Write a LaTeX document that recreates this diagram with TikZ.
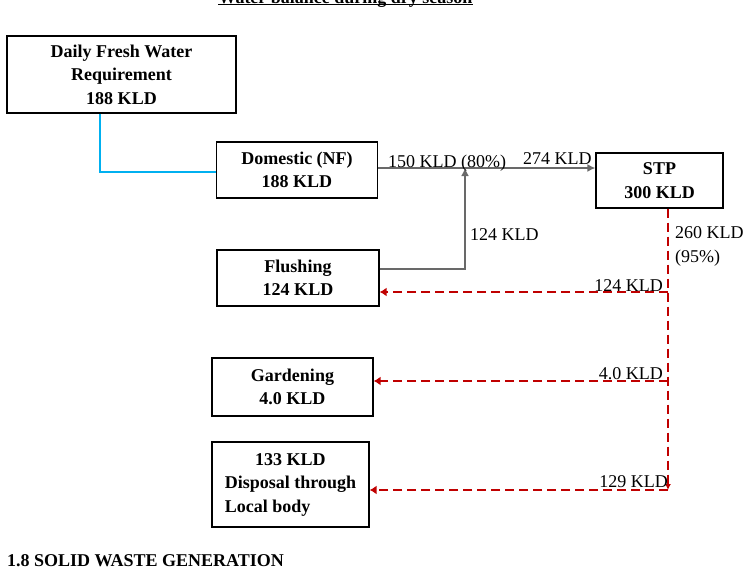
\documentclass[tikz,border=0pt]{standalone}
\usepackage{fontspec}
\usepackage{calc}
\setmainfont{Liberation Serif}
\usetikzlibrary{calc}
\usetikzlibrary{arrows.meta}

\definecolor{feedblue}{RGB}{0,176,240}
\definecolor{flowgray}{RGB}{105,105,105}
\definecolor{reusered}{RGB}{192,0,0}

\begin{document}
\begin{tikzpicture}[x=1pt, y=-1pt,
    unit/.style={draw, line width=1.2pt, inner sep=0pt, align=center,
      font=\fontsize{18}{23.5}\selectfont\bfseries},
    flow/.style={flowgray, line width=2pt, -{Latex[length=8pt, width=8pt]}},
    reuse/.style={reusered, line width=2.8pt, dash pattern=on 9pt off 5pt,
      -{Latex[length=7pt, width=9pt]}},
    qty/.style={anchor=base west, inner sep=0pt, font=\fontsize{18}{23.5}\selectfont}]

    \useasboundingbox (0,0) rectangle (748,570);
    \clip (0,0) rectangle (748,570);

    \node[anchor=base, inner sep=0pt, font=\fontsize{18}{22}\selectfont\bfseries]
      (title) at (345.5,3) {Water balance during dry season};
    \draw[line width=1.2pt] ([yshift=-1.8pt]title.base west)
      -- ([yshift=-1.8pt]title.base east);

    \node[unit, minimum width=229, minimum height=77] (fresh) at (121.5,74.5)
      {Daily Fresh Water\\Requirement\\188 KLD};
    \node[unit, minimum width=161, minimum height=56] (domestic) at (297,170)
      {Domestic (NF)\\188 KLD};
    \node[unit, minimum width=162, minimum height=56] (flushing) at (298,278)
      {Flushing\\124 KLD};
    \node[unit, minimum width=127, minimum height=55] (stp) at (659.5,180.5)
      {STP\\300 KLD};
    \node[unit, minimum width=161, minimum height=58] (garden) at (292.5,387)
      {Gardening\\4.0 KLD};
    \node[unit, align=left, minimum width=157, minimum height=85]
      (disposal) at (290.5,484.5)
      {\makebox[\widthof{Disposal through}]{133 KLD}\\Disposal through\\Local body};

    \coordinate (join) at (465,168);
    \coordinate (tap) at ([xshift=8.5pt]stp.south);
    \coordinate (flushin) at ([yshift=-14pt]flushing.east);
    \coordinate (gardenin) at ([yshift=6pt]garden.east);
    \coordinate (disposalin) at ([yshift=-5.5pt]disposal.east);

    \draw[feedblue, line width=2.6pt] ([xshift=-21.5pt]fresh.south)
      |- ([yshift=-2pt]domestic.west);

    \draw[flow] ([yshift=2pt]domestic.east) -- (stp.west |- join);
    \draw[flow] ([yshift=9pt]flushing.east) -| (join);

    \draw[reuse, -{Latex[length=6pt, width=6pt]}] (tap) -- (tap |- disposalin);
    \foreach \dst in {flushin, gardenin, disposalin}
        \draw[reuse] (tap |- \dst) -- (\dst);

    \node[qty] (q150) at (388,167) {150 KLD (80\%)};
    \node[qty] (q274) at (523,164) {274 KLD};
    \node[qty] (q124up) at (470,240) {124 KLD};
    \node[qty] (q260) at (675,238) {260 KLD};
    \node[qty] (q95) at (675,262) {(95\%)};
    \node[qty, anchor=base east] (q124) at (663,291) {124 KLD};
    \node[qty, anchor=base east] (q40) at (663,379) {4.0 KLD};
    \node[qty, anchor=base east] (q129) at (668,487) {129 KLD};

    \node[anchor=base west, inner sep=0pt, font=\fontsize{18}{22}\selectfont\bfseries]
      (footer) at (7,566) {1.8 SOLID WASTE GENERATION};

\end{tikzpicture}
\end{document}
